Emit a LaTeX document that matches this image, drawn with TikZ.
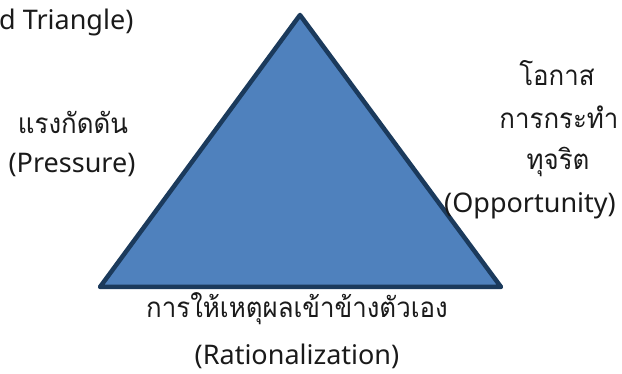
\documentclass[tikz,border=0pt]{standalone}
\usepackage{fontspec}
\newfontfamily\thaifont[Script=Thai,FakeStretch=0.93]{Loma}
\newfontfamily\latinfont{Noto Sans}
\definecolor{trifill}{HTML}{4F81BD}
\definecolor{triline}{HTML}{1B3A5C}
\definecolor{txt}{HTML}{1A1A1A}
\begin{document}
\begin{tikzpicture}[x=1pt,y=-1pt,
  thlbl/.style={inner sep=0pt,font=\thaifont\fontsize{27.8}{32}\selectfont,text=txt},
  enlbl/.style={inner sep=0pt,font=\latinfont\fontsize{27}{32}\selectfont,text=txt},
  tri/.style={fill=trifill,draw=triline,line width=4.5pt,line join=round}]
\useasboundingbox (0,0) rectangle (622,374);
\coordinate (apex) at (300,15);
\coordinate (bl) at (100,287);
\coordinate (br) at (501,287);
\draw[tri] (apex) -- (bl) -- (br) -- cycle;
\node[enlbl,anchor=west] (title) at (-1,22) {d Triangle)};
\node[thlbl] (p1) at (73,122) {แรงกัดดัน};
\node[enlbl] (p2) at (72,165) {(Pressure)};
\node[thlbl] (o1) at (557,73) {โอกาส};
\node[thlbl] (o2) at (559,117) {การกระทำ};
\node[thlbl] (o3) at (558,162) {ทุจริต};
\node[enlbl] (o4) at (530,206) {(Opportunity)};
\node[thlbl] (r1) at (297,309) {การให้เหตุผลเข้าข้างตัวเอง};
\node[enlbl] (r2) at (297,356) {(Rationalization)};
\end{tikzpicture}
\end{document}
